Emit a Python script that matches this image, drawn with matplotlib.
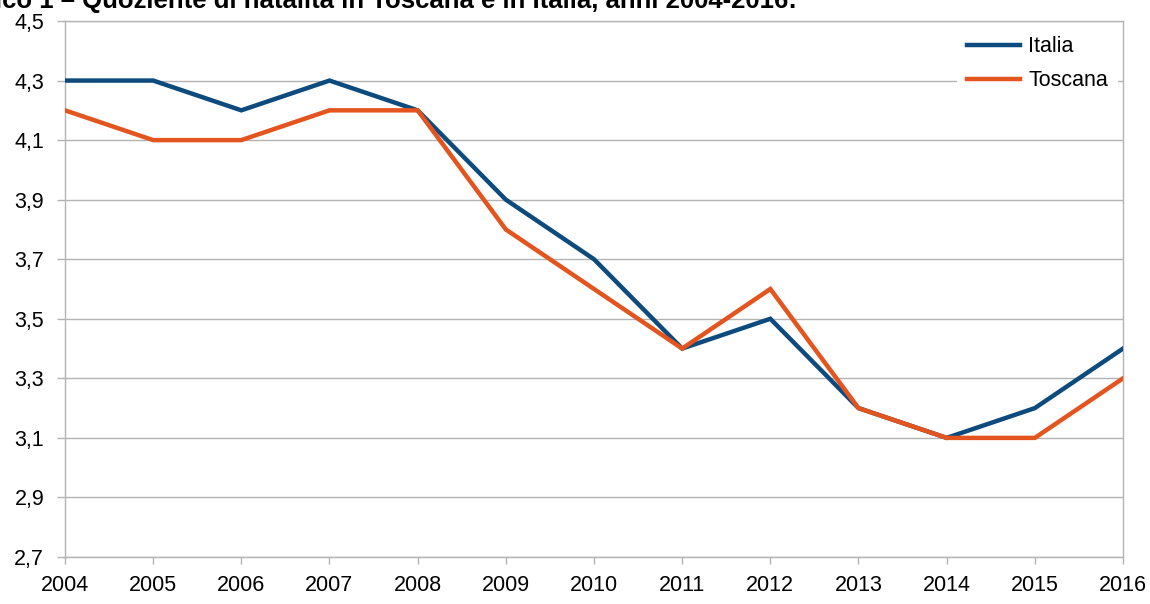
import matplotlib
matplotlib.use("Agg")
import matplotlib.pyplot as plt

years = [2004, 2005, 2006, 2007, 2008, 2009, 2010, 2011, 2012, 2013, 2014, 2015, 2016]
italia = [4.3, 4.3, 4.2, 4.3, 4.2, 3.9, 3.7, 3.4, 3.5, 3.2, 3.1, 3.2, 3.4]
toscana = [4.2, 4.1, 4.1, 4.2, 4.2, 3.8, 3.6, 3.4, 3.6, 3.2, 3.1, 3.1, 3.3]
yticks = [2.7, 2.9, 3.1, 3.3, 3.5, 3.7, 3.9, 4.1, 4.3, 4.5]
ytick_labels = ["2,7", "2,9", "3,1", "3,3", "3,5", "3,7", "3,9", "4,1", "4,3", "4,5"]
title_prefix = "Grafico 1 – "
title_main = "Quoziente di natalità in Toscana e in Italia, anni 2004-2016:"

plt.rcParams['font.family'] = ['Liberation Sans', 'DejaVu Sans']

W, H = 1150, 604
fig = plt.figure(figsize=(W / 100, H / 100), dpi=100)
ax = fig.add_axes([65 / W, 1 - 557 / H, (1123 - 65) / W, (557 - 21) / H])

ax.plot(years, italia, color='#0d4a7d', lw=3.2, label='Italia', solid_joinstyle='miter', zorder=3)
ax.plot(years, toscana, color='#e4541e', lw=3.2, label='Toscana', solid_joinstyle='miter', zorder=3)

FS = 15.5
ax.set_xlim(2004, 2016)
ax.set_ylim(2.7, 4.5)
ax.set_xticks(years)
ax.set_xticklabels([str(y) for y in years])
ax.set_yticks(yticks)
ax.set_yticklabels(ytick_labels)
ax.grid(axis='y', color='#b3b3b3', lw=1)
ax.set_axisbelow(True)
for s in ax.spines.values():
    s.set_color('#b3b3b3')
    s.set_linewidth(1)
ax.tick_params(axis='both', colors='#b3b3b3', labelcolor='#000000', labelsize=FS, width=1)
ax.tick_params(axis='x', length=5, pad=8)
ax.tick_params(axis='y', length=6, pad=9)

leg = ax.legend(loc='upper right', bbox_to_anchor=(1.0, 1.0), frameon=True, fontsize=FS,
                handlelength=2.45, handletextpad=0.4, borderaxespad=0.25, borderpad=0.45,
                labelspacing=0.62)
leg.get_frame().set_edgecolor('none')
leg.get_frame().set_facecolor('white')
leg.get_frame().set_alpha(1)
leg.get_frame().set_boxstyle('square', pad=0)

# title: bottom part visible only, "Quoziente" starts at ~x=82 px
fig.canvas.draw()
r = fig.canvas.get_renderer()
tmp = fig.text(0, 0, title_prefix, fontsize=18.5, fontweight='bold')
pw = tmp.get_window_extent(renderer=r).width
tmp.remove()
fig.text((82 - pw) / W, 1 - 8 / H, title_prefix + title_main, fontsize=18.5,
         fontweight='bold', ha='left', va='baseline')

fig.savefig('out.png', dpi=100)
